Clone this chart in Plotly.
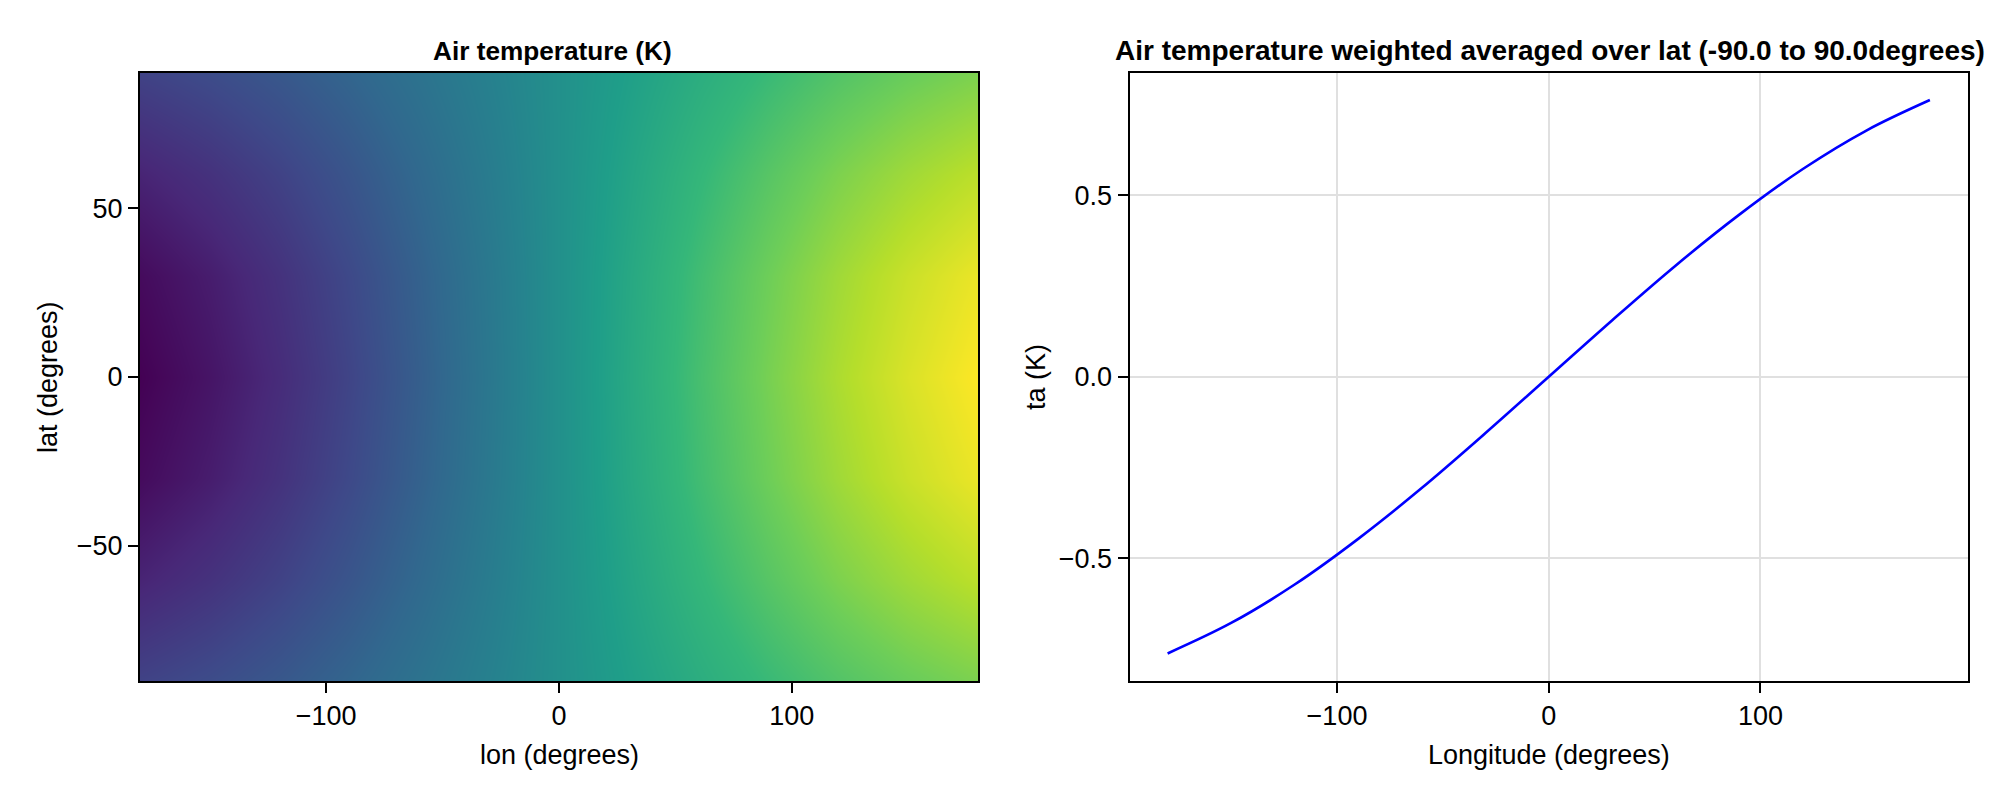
import plotly.graph_objects as go

# ---------------- data ----------------
lon = [-180, -150, -120, -90, -60, -30, 0, 30, 60, 90, 120, 150, 180]
lat = [-90, -60, -30, 0, 30, 60, 90]

ta_grid = [
    [-0.501, -0.446, -0.376, -0.293, -0.202, -0.103, 0.0, 0.103, 0.202, 0.293, 0.376, 0.446, 0.501],
    [-0.668, -0.594, -0.502, -0.391, -0.269, -0.137, 0.0, 0.137, 0.269, 0.391, 0.502, 0.594, 0.668],
    [-0.790, -0.703, -0.593, -0.463, -0.318, -0.162, 0.0, 0.162, 0.318, 0.463, 0.593, 0.703, 0.790],
    [-0.835, -0.743, -0.627, -0.489, -0.336, -0.171, 0.0, 0.171, 0.336, 0.489, 0.627, 0.743, 0.835],
    [-0.790, -0.703, -0.593, -0.463, -0.318, -0.162, 0.0, 0.162, 0.318, 0.463, 0.593, 0.703, 0.790],
    [-0.668, -0.594, -0.502, -0.391, -0.269, -0.137, 0.0, 0.137, 0.269, 0.391, 0.502, 0.594, 0.668],
    [-0.501, -0.446, -0.376, -0.293, -0.202, -0.103, 0.0, 0.103, 0.202, 0.293, 0.376, 0.446, 0.501],
]

# weighted average over latitude
ta_mean = [-0.763, -0.679, -0.573, -0.447, -0.307, -0.156, 0.0,
           0.156, 0.307, 0.447, 0.573, 0.679, 0.763]

left_title = "Air temperature (K)"
right_title = "Air temperature weighted averaged over lat (-90.0 to 90.0degrees)"

# ---------------- figure ----------------
W, H = 2000, 800
FONT = "Liberation Sans, Arial, Helvetica, sans-serif"
FS = 27

fig = go.Figure()

fig.add_trace(go.Heatmap(
    x=lon, y=lat, z=ta_grid,
    colorscale="Viridis", zmin=-0.835, zmax=0.835,
    zsmooth="best", showscale=False,
    xaxis="x", yaxis="y",
))

fig.add_trace(go.Scatter(
    x=lon, y=ta_mean, mode="lines",
    line=dict(color="#0000ff", width=2.6, shape="spline", smoothing=1.0),
    xaxis="x2", yaxis="y2", showlegend=False,
))

def px_x(p):
    return p / W

def px_y(p):
    return 1 - p / H

axis_common = dict(
    showline=True, mirror=True, linecolor="black", linewidth=2,
    ticks="outside", ticklen=10, tickwidth=1.6, tickcolor="black",
    tickfont=dict(family=FONT, size=FS, color="black"),
    zeroline=False,
)

fig.update_layout(
    width=W, height=H,
    margin=dict(l=0, r=0, t=0, b=0),
    paper_bgcolor="white", plot_bgcolor="white",
    showlegend=False,
    xaxis=dict(domain=[px_x(140), px_x(978)], range=[-180, 180],
               tickvals=[-100, 0, 100], showgrid=False, anchor="y", **axis_common),
    yaxis=dict(domain=[px_y(681), px_y(73)], range=[-90, 90],
               tickvals=[-50, 0, 50], showgrid=False, anchor="x", **axis_common),
    xaxis2=dict(domain=[px_x(1129.5), px_x(1968)], range=[-198, 198],
                tickvals=[-100, 0, 100], showgrid=True, gridcolor="#e0e0e0",
                gridwidth=1.6, anchor="y2", **axis_common),
    yaxis2=dict(domain=[px_y(681), px_y(72.5)], range=[-0.839, 0.839],
                tickvals=[-0.5, 0.0, 0.5], tickformat=".1f", showgrid=True,
                gridcolor="#e0e0e0", gridwidth=1.6, anchor="x2", **axis_common),
)

ann_font = dict(family=FONT, size=FS, color="black")
annotations = [
    dict(text="<b>" + left_title + "</b>", x=px_x(552), y=px_y(51),
         font=dict(family=FONT, size=26.2, color="black")),
    dict(text="<b>" + right_title + "</b>", x=px_x(1550), y=px_y(51),
         font=dict(family=FONT, size=28, color="black")),
    dict(text="lon (degrees)", x=px_x(559), y=px_y(755)),
    dict(text="Longitude (degrees)", x=px_x(1549), y=px_y(755)),
    dict(text="lat (degrees)", x=px_x(48), y=px_y(377), textangle=-90),
    dict(text="ta (K)", x=px_x(1036), y=px_y(377), textangle=-90),
]
for a in annotations:
    a.update(xref="paper", yref="paper", xanchor="center", yanchor="middle",
             showarrow=False)
    if "font" not in a:
        a["font"] = ann_font
fig.update_layout(annotations=annotations)

fig.write_html("out.html")
